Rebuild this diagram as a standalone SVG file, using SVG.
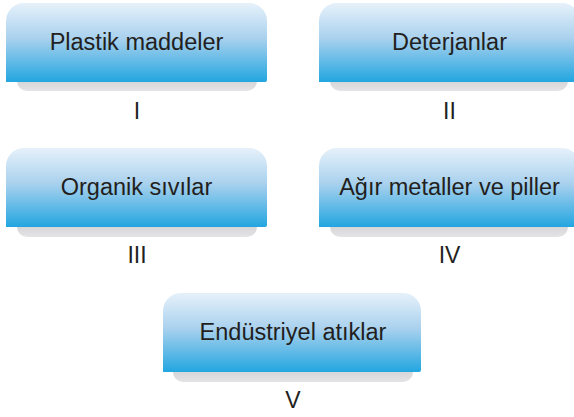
<svg xmlns="http://www.w3.org/2000/svg" width="574" height="417" viewBox="0 0 574 417">
<defs>
<linearGradient id="g" x1="0" y1="0" x2="0" y2="1">
<stop offset="0" stop-color="#e6f1fa"/>
<stop offset="0.45" stop-color="#a9d1ee"/>
<stop offset="1" stop-color="#22a6e0"/>
</linearGradient>
<linearGradient id="sh" x1="0" y1="0" x2="0" y2="1">
<stop offset="0" stop-color="#d4d4d6"/>
<stop offset="1" stop-color="#e4e4e6"/>
</linearGradient>
</defs>
<style>
.box{fill:url(#g)}
.shadow{fill:url(#sh)}
.t{font-family:"Liberation Sans",Arial,sans-serif;font-size:23.5px;fill:#231f20;text-anchor:middle}
.n{font-family:"Liberation Sans",Arial,sans-serif;font-size:23px;fill:#231f20;text-anchor:middle}
</style>
<g id="node1">
<path class="shadow" d="M17,80 H257 V81 a10,10 0 0 1 -10,10 H27 a10,10 0 0 1 -10,-10 Z"/>
<path class="box" d="M6,82 V21 a18,18 0 0 1 18,-18 H249 a18,18 0 0 1 18,18 V80 a2,2 0 0 1 -2,2 Z"/>
<text class="t" x="136.5" y="50">Plastik maddeler</text>
<text class="n" x="137" y="119">I</text>
</g>
<g id="node2">
<path class="shadow" d="M330,80 H568 V81 a10,10 0 0 1 -10,10 H340 a10,10 0 0 1 -10,-10 Z"/>
<path class="box" d="M319,82 V21 a18,18 0 0 1 18,-18 H562 a18,18 0 0 1 18,18 V80 a2,2 0 0 1 -2,2 Z"/>
<text class="t" x="449.5" y="50">Deterjanlar</text>
<text class="n" x="449.5" y="119">II</text>
</g>
<g id="node3">
<path class="shadow" d="M17,225 H257 V227 a10,10 0 0 1 -10,10 H27 a10,10 0 0 1 -10,-10 Z"/>
<path class="box" d="M6,227 V166 a18,18 0 0 1 18,-18 H249 a18,18 0 0 1 18,18 V225 a2,2 0 0 1 -2,2 Z"/>
<text class="t" x="136.5" y="195">Organik sıvılar</text>
<text class="n" x="137" y="263">III</text>
</g>
<g id="node4">
<path class="shadow" d="M330,225 H568 V227 a10,10 0 0 1 -10,10 H340 a10,10 0 0 1 -10,-10 Z"/>
<path class="box" d="M319,227 V166 a18,18 0 0 1 18,-18 H562 a18,18 0 0 1 18,18 V225 a2,2 0 0 1 -2,2 Z"/>
<text class="t" x="449.5" y="195">Ağır metaller ve piller</text>
<text class="n" x="449.5" y="263">IV</text>
</g>
<g id="node5">
<path class="shadow" d="M173,370 H413 V372 a10,10 0 0 1 -10,10 H183 a10,10 0 0 1 -10,-10 Z"/>
<path class="box" d="M163,372 V311 a18,18 0 0 1 18,-18 H403 a18,18 0 0 1 18,18 V370 a2,2 0 0 1 -2,2 Z"/>
<text class="t" x="293" y="340">Endüstriyel atıklar</text>
<text class="n" x="293" y="408">V</text>
</g>
<g id="connectors"/>
</svg>
